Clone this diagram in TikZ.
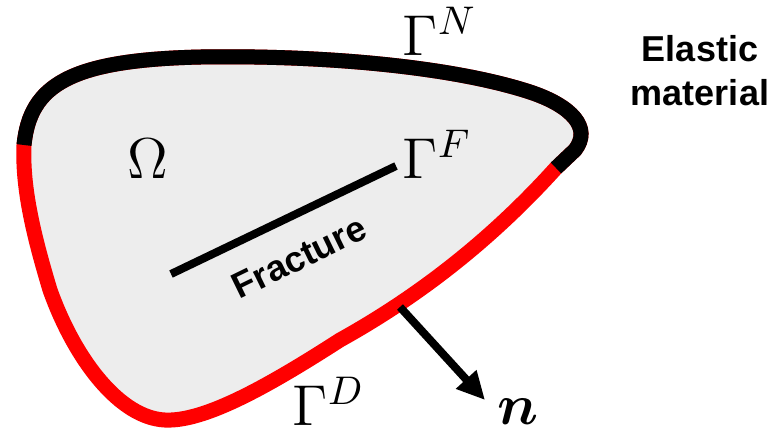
\documentclass[tikz,border=0pt]{standalone}
\usepackage{amsmath,amssymb}
\usepackage{fontspec}
\newfontfamily\arialfont{Liberation Sans}
\usepackage{tikz}
\usetikzlibrary{arrows.meta, positioning}
\definecolor{domaingray}{RGB}{237,237,237}

\begin{document}
\begin{tikzpicture}[x=0.25pt, y=-0.25pt,
    bnd/.style={line width=3.75pt},
    crack/.style={line width=2pt},
    normalvec/.style={line width=2pt, -{Triangle[length=7pt,width=6.5pt]}},
    mathlbl/.style={font=\Large, inner sep=0pt, anchor=base west},
    sanslbl/.style={font=\small\arialfont\bfseries, inner sep=0pt, align=center}]
  \useasboundingbox (0,0) rectangle (782,431);
  % domain, Dirichlet part of the boundary in red
  \filldraw[bnd, fill=domaingray, draw=red]
    (24,145) .. controls (30,85) and (70,60) .. (200,57)
    .. controls (320,55) and (450,66) .. (530,92)
    .. controls (572,106) and (592,128) .. (575,150) -- (556,168)
    .. controls (500,230) and (430,290) .. (340,340)
    .. controls (270,385) and (205,422) .. (165,420)
    .. controls (120,418) and (75,360) .. (50,290)
    .. controls (35,240) and (22,190) .. (24,145) -- cycle;
  % Neumann part on top
  \draw[bnd, black]
    (24,145) .. controls (30,85) and (70,60) .. (200,57)
    .. controls (320,55) and (450,66) .. (530,92)
    .. controls (572,106) and (592,128) .. (575,150) -- (556,168);
  % fracture and outward normal
  \coordinate (fracA) at (171,274);
  \coordinate (fracB) at (396,166);
  \draw[crack] (fracA) -- (fracB);
  \coordinate (nfoot) at (400,307);
  \coordinate (ntip) at (485,400);
  \draw[normalvec] (nfoot) -- (ntip);
  % labels
  \node[mathlbl, anchor=base] (omega) at (148,178) {$\Omega$};
  \node[mathlbl] (gammaF) at (402,178) {$\Gamma^F$};
  \node[mathlbl] (gammaN) at (402,55) {$\Gamma^N$};
  \node[mathlbl] (gammaD) at (292,425) {$\Gamma^D$};
  \node[mathlbl] (nlbl) at (497,424) {$\boldsymbol{n}$};
  \node[sanslbl, rotate=26, anchor=base west] (fraclbl) at (239,300) {Fracture};
  \node[sanslbl] (material) at (700,71) {Elastic\\material};
\end{tikzpicture}
\end{document}
